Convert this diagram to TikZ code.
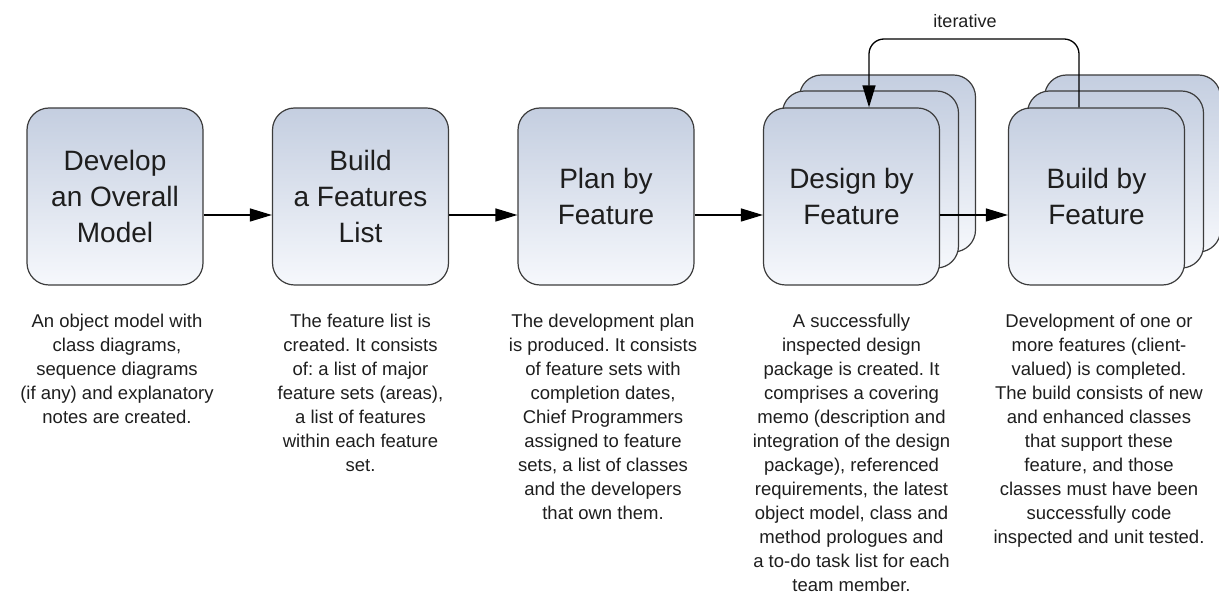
\documentclass[tikz,border=0pt]{standalone}
\usepackage{fontspec}
\setmainfont{Liberation Sans}
\frenchspacing
\usetikzlibrary{arrows.meta}
\definecolor{phasetop}{RGB}{196,206,224}
\definecolor{phasebot}{RGB}{246,248,252}
\definecolor{phaseline}{RGB}{60,60,60}
\definecolor{txt}{RGB}{30,30,30}
\tikzset{
  phase/.style={draw=phaseline, line width=1.2pt, rounded corners=22pt,
    top color=phasetop, bottom color=phasebot,
    minimum width=176pt, minimum height=177pt, inner sep=0pt,
    align=center, text=txt, font=\fontsize{28}{36}\selectfont},
  note/.style={anchor=north, inner sep=0pt, align=center, text=txt,
    font=\fontsize{18.5}{24}\selectfont},
  flow/.style={line width=1.3pt, -{Triangle[length=22pt,width=13pt]}}
}
\begin{document}
\begin{tikzpicture}[x=1pt,y=1pt]
      \useasboundingbox (0,0) rectangle (1219,-593);
      % copies behind the two iterated phases
      \node[phase] (design3) at (887.5,-163.5) {};
      \node[phase] (design2) at (870.5,-179.5) {};
      \node[phase] (build3) at (1132.5,-163.5) {};
      \node[phase] (build2) at (1115.5,-179.5) {};

      \node[phase] (model) at (115,-196.5) {Develop\\an Overall\\Model};
      \node[phase] (list) at (360.5,-196.5) {Build\\a Features\\List};
      \node[phase] (plan) at (606,-196.5) {Plan by\\Feature};
      \node[phase] (design) at (851.5,-196.5) {Design by\\Feature};
      \node[phase] (build) at (1096.5,-196.5) {Build by\\Feature};

      \draw[flow] ([yshift=-18.5pt]model.east) -- ([yshift=-18.5pt]list.west);
      \draw[flow] ([yshift=-18.5pt]list.east) -- ([yshift=-18.5pt]plan.west);
      \draw[flow] ([yshift=-18.5pt]plan.east) -- ([yshift=-18.5pt]design.west);
      \draw[flow] ([yshift=-18.5pt]design.east) -- ([yshift=-18.5pt]build.west);

      % iterative loop back
      \coordinate (loop) at (965,-39);
      \draw[flow, rounded corners=15pt] ([xshift=-17.5pt]build.north) |- (loop)
      -| ([xshift=17.5pt]design.north);
      \node[text=txt, font=\fontsize{18}{22}\selectfont] (iter) at (965,-21) {iterative};

      \node[note] (modeltxt) at (117,-313.5) {An object model with\\class diagrams,\\
        sequence diagrams\\(if any) and explanatory\\notes are created.};
      \node[note] (listtxt) at (360.5,-313.5) {The feature list is\\created. It consists\\
        of: a list of major\\feature sets (areas),\\a list of features\\
        within each feature\\set.};
      \node[note] (plantxt) at (603,-313.5) {The development plan\\is produced. It consists\\
        of feature sets with\\completion dates,\\Chief Programmers\\
        assigned to feature\\sets, a list of classes\\and the developers\\
        that own them.};
      \node[note] (designtxt) at (851.5,-313.5) {A successfully\\inspected design\\
        package is created. It\\comprises a covering\\memo (description and\\
        integration of the design\\package), referenced\\requirements, the latest\\
        object model, class and\\method prologues and\\
        a to-do task list for each\\team member.};
      \node[note] (buildtxt) at (1099,-313.5) {Development of one or\\more features (client-\\
        valued) is completed.\\The build consists of new\\and enhanced classes\\
        that support these\\feature, and those\\classes must have been\\
        successfully code\\inspected and unit tested.};
\end{tikzpicture}
\end{document}
